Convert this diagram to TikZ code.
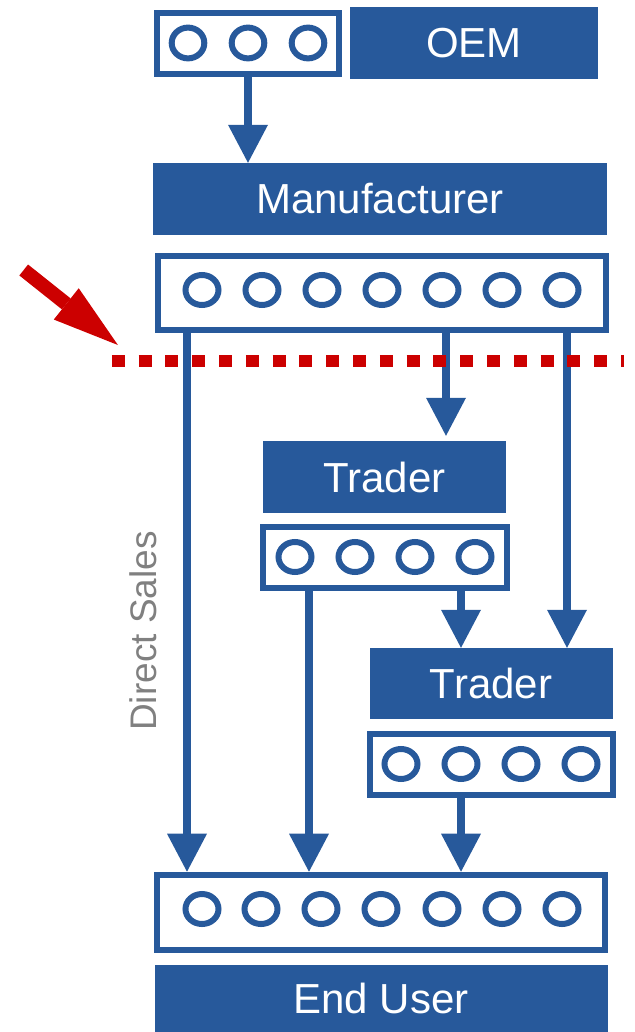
\documentclass[tikz,border=0pt]{standalone}
\usepackage{fontspec}
\setmainfont{Liberation Sans}
\usepackage{xcolor}
\usepackage{tikz}
\usetikzlibrary{arrows.meta}

\definecolor{chainblue}{RGB}{39,89,155}
\definecolor{cutred}{RGB}{204,0,0}
\definecolor{notegray}{RGB}{128,128,128}

\begin{document}
\begin{tikzpicture}[x=1pt, y=-1pt]
\tikzstyle{labelbox} = [rectangle, fill=chainblue, text=white, inner sep=0pt, minimum width=243pt, minimum height=72pt, font=\fontsize{42}{48}\selectfont]
\tikzstyle{dotbox} = [rectangle, draw=chainblue, line width=6pt, fill=white, inner sep=0pt]
\tikzstyle{ring} = [draw=chainblue, line width=6pt]
\tikzstyle{arrow} = [draw=chainblue, line width=7.5pt, -{Triangle[length=38pt, width=40pt, line width=0pt]}]
\tikzstyle{cutline} = [draw=cutred, line width=12.3pt, dash pattern=on 13pt off 13.8pt]
\tikzstyle{pointer} = [draw=cutred, line width=14pt, -{Triangle[length=66pt, width=40pt, line width=0pt]}]

\useasboundingbox (0,0) rectangle (634,1032);

\node[dotbox, minimum width=182pt, minimum height=60.7pt] (oemdots) at (247.5,43.3) {};
\node[labelbox, minimum width=248pt] (oem) at (474,43) {OEM};
\node[labelbox, minimum width=454pt] (mfg) at (380,199) {Manufacturer};
\node[dotbox, minimum width=448pt, minimum height=74.6pt] (mfgdots) at (381.5,293) {};
\node[labelbox] (trader1) at (384.5,477) {Trader};
\node[dotbox, minimum width=244pt, minimum height=61pt] (t1dots) at (385,557) {};
\node[labelbox, minimum height=71pt] (trader2) at (491,683.5) {Trader};
\node[dotbox, minimum width=243pt, minimum height=61pt] (t2dots) at (491.4,764) {};
\node[dotbox, minimum width=448.8pt, minimum height=75.6pt] (enddots) at (381,912.5) {};
\node[labelbox, minimum width=453pt, minimum height=67pt] (enduser) at (381,998.5) {End User};
\node[text=notegray, rotate=90, font=\fontsize{37}{44}\selectfont] (directlbl) at (143.5,631) {Direct Sales};

% circles in the boxes
\foreach \x in {188,248,308} \draw[ring] (\x,43) ellipse [x radius=16.3pt, y radius=15.4pt];
\foreach \x in {202,262,322,382,442,502,562} \draw[ring] (\x,290) ellipse [x radius=16.5pt, y radius=15pt];
\foreach \x in {295,355,415,475} \draw[ring] (\x,557) ellipse [x radius=16.5pt, y radius=15pt];
\foreach \x in {401,461,521,581} \draw[ring] (\x,764) ellipse [x radius=16.5pt, y radius=15pt];
\foreach \x in {202,261,321,381,442,502,562} \draw[ring] (\x,909) ellipse [x radius=16.5pt, y radius=15pt];

\draw[arrow] (248,0 |- oemdots.south) -- (248,0 |- mfg.north);
\draw[arrow] (187,0 |- mfgdots.south) -- (187,0 |- enddots.north);
\draw[arrow, shorten >=5pt] (446,0 |- mfgdots.south) -- (446,0 |- trader1.north);
\draw[arrow] (567,0 |- mfgdots.south) -- (567,0 |- trader2.north);
\draw[arrow] (461,0 |- t1dots.south) -- (461,0 |- trader2.north);
\draw[arrow] (309,0 |- t1dots.south) -- (309,0 |- enddots.north);
\draw[arrow] (461,0 |- t2dots.south) -- (461,0 |- enddots.north);

% cut line and pointer
\coordinate (cuttail) at (23.7,270);
\coordinate (cuttip) at (117.9,345);
\draw[cutline] (111.8,361) -- (624,361);
\draw[pointer] (cuttail) -- (cuttip);
\end{tikzpicture}
\end{document}
